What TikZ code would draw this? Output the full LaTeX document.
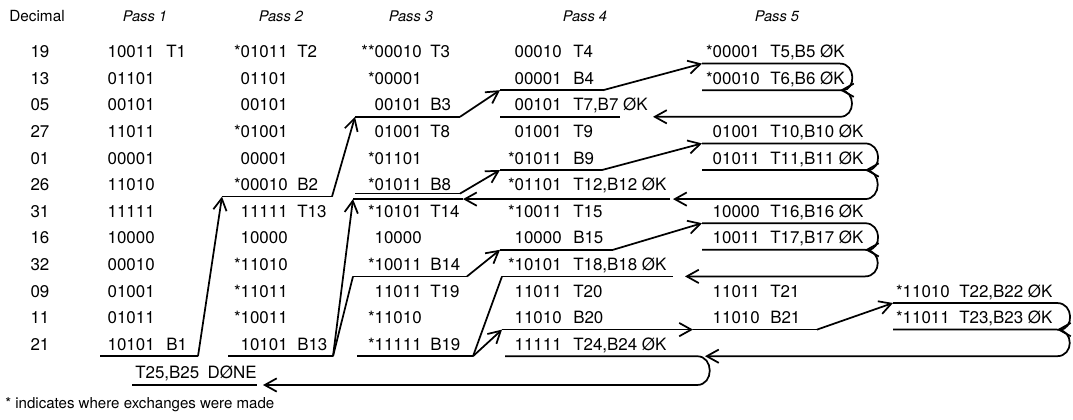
\documentclass[tikz,border=0pt]{standalone}
\usepackage{fontspec}
\setmainfont{TeX Gyre Heros}
\usetikzlibrary{arrows.meta}

\tikzset{
	cell/.style={inner sep=0pt, font=\fontsize{12.7}{15}\selectfont},
	num/.style={cell, anchor=base east},
	tag/.style={cell, anchor=base west},
	title/.style={inner sep=0pt, anchor=base, font=\fontsize{11}{13}\selectfont\itshape},
	rule/.style={line width=1.3pt},
	flow/.style={rule, -{Straight Barb[length=9pt,width=10pt]}}
}

\begin{document}
\begin{tikzpicture}[x=0.75pt, y=-0.75pt]
\useasboundingbox (0,0) rectangle (1073,419);

% Cabeceras
\node[title, font=\fontsize{11.5}{13}\selectfont] (hdec) at (37,21) {Decimal};
\foreach \x [count=\p] in {145,281,411,585,777}
	\node[title] (h\p) at (\x,21) {Pass \p};

% Decimal
\foreach \d [count=\r] in {19,13,05,27,01,26,31,16,32,09,11,21}
	\node[cell, anchor=base] (d\r) at (40,{31+26.6*\r}) {\d};

% Pass 1
\foreach \n [count=\r] in {10011,01101,00101,11011,00001,11010,11111,10000,00010,01001,01011,10101}
	\node[num] (a\r) at (155,{31+26.6*\r}) {\n};
\foreach \r/\l in {1/T1,12/B1}
	\node[tag] (at\r) at (166,{31+26.6*\r}) {\l};

% Pass 2
\foreach \n [count=\r] in {*01011,01101,00101,*01001,00001,*00010,11111,10000,*11010,*11011,*10011,10101}
	\node[num] (b\r) at (288,{31+26.6*\r}) {\n};
\foreach \r/\l in {1/T2,6/B2,7/T13,12/B13}
	\node[tag] (bt\r) at (297,{31+26.6*\r}) {\l};

% Pass 3
\foreach \n [count=\r] in {**00010,*00001,00101,01001,*01101,*01011,*10101,10000,*10011,11011,*11010,*11111}
	\node[num] (c\r) at (422,{31+26.6*\r}) {\n};
\foreach \r/\l in {1/T3,3/B3,4/T8,6/B8,7/T14,9/B14,10/T19,12/B19}
	\node[tag] (ct\r) at (430,{31+26.6*\r}) {\l};

% Pass 4
\foreach \n [count=\r] in {00010,00001,00101,01001,*01011,*01101,*10011,10000,*10101,11011,11010,11111}
	\node[num] (p\r) at (562,{31+26.6*\r}) {\n};
\foreach \r/\l in {1/T4,2/B4,3/{T7,B7 ØK},4/T9,5/B9,6/{T12,B12 ØK},7/T15,8/B15,9/{T18,B18 ØK},10/T20,11/B20,12/{T24,B24 ØK}}
	\node[tag] (pt\r) at (573,{31+26.6*\r}) {\l};

% Pass 5
\foreach \r/\n/\l in {1/*00001/{T5,B5 ØK},2/*00010/{T6,B6 ØK},4/01001/{T10,B10 ØK},5/01011/{T11,B11 ØK},7/10000/{T16,B16 ØK},8/10011/{T17,B17 ØK},10/11011/T21,11/11010/B21}{
	\node[num] (e\r) at (760,{31+26.6*\r}) {\n};
	\node[tag] (et\r) at (770,{31+26.6*\r}) {\l};
}

% Pass 6
\foreach \r/\n/\l in {10/*11010/{T22,B22 ØK},11/*11011/{T23,B23 ØK}}{
	\node[num] (f\r) at (950,{31+26.6*\r}) {\n};
	\node[tag] (ft\r) at (959,{31+26.6*\r}) {\l};
}

\node[cell, anchor=base west] (done) at (135,378) {T25,B25\enspace DØNE};
\node[inner sep=0pt, anchor=base west, font=\fontsize{11.3}{13}\selectfont] (note) at (5,408) {* indicates where exchanges were made};

% Lineas, pasos 1 a 3
\draw[rule] (100,356.2) -- (198,356.2) coordinate (B1);
\draw[rule] (222,196.6) coordinate (B2l) -- (332,196.6) coordinate (B2);
\draw[flow] (B1) -- (B2l);
\draw[rule] (228,356.2) -- (333,356.2) coordinate (B13);
\draw[rule] (355,116.8) coordinate (B3l) -- (460,116.8) coordinate (B3);
\draw[flow] (B2) -- (B3l);
\draw[rule] (355,193.6) -- (460,193.6) coordinate (B8);
\draw[rule] (353,199.1) coordinate (T14l) -- (463,199.1) coordinate (T14r);
\draw[rule] (353,276.4) coordinate (B14l) -- (467,276.4) coordinate (B14);
\draw[rule] (357,356.2) -- (473,356.2) coordinate (B19);
\draw[flow] (B13) -- (T14l);
\draw[rule] (B13) -- (B14l);

% Lineas, paso 4
\draw[rule] (500,90.2) coordinate (B4l) -- (603,90.2) coordinate (B4);
\draw[flow] (B3) -- (B4l);
\draw[rule] (500,116.8) -- (620,116.8);
\draw[rule] (500,170) coordinate (B9l) -- (602,170) coordinate (B9);
\draw[flow] (B8) -- (B9l);
\draw[flow] (670,199.1) coordinate (T12r) -- (T14r);
\draw[rule] (500,249.8) coordinate (B15l) -- (613,249.8) coordinate (B15);
\draw[flow] (B14) -- (B15l);
\draw[rule] (502,276.4) coordinate (T18l) -- (673,276.4);
\draw[rule] (B19) -- (T18l);
\draw[flow] (502,329.6) coordinate (B20l) -- (693,329.6) coordinate (B21l);
\draw[flow] (B19) -- (B20l);
\draw[flow] (505,356.2) -- (697,356.2) .. controls (714,356.2) and (714,385) .. (697,385) -- (263,385);
\draw[rule] (132,385) -- (257,385);

% Lineas, pasos 5 y 6
\draw[flow] (702,63.6) coordinate (T5l) -- (840,63.6) .. controls (856,63.6) and (856,90.2) .. (840,90.2);
\draw[flow] (702,90.2) -- (840,90.2) .. controls (856,90.2) and (856,116.8) .. (840,116.8) -- (653,116.8);
\draw[flow] (B4) -- (T5l);
\draw[flow] (702,143.4) coordinate (T10l) -- (865,143.4) .. controls (882,143.4) and (882,170) .. (865,170);
\draw[flow] (702,170) -- (865,170) .. controls (882,170) and (882,199.1) .. (865,199.1) -- (673,199.1);
\draw[flow] (B9) -- (T10l);
\draw[flow] (702,223.2) coordinate (T16l) -- (865,223.2) .. controls (882,223.2) and (882,249.8) .. (865,249.8);
\draw[flow] (702,249.8) -- (865,249.8) .. controls (882,249.8) and (882,276.4) .. (865,276.4) -- (685,276.4);
\draw[flow] (B15) -- (T16l);
\draw[rule] (B21l) -- (817,329.6) coordinate (B21);
\draw[flow] (893,303) coordinate (T22l) -- (1057,303) .. controls (1074,303) and (1074,329.6) .. (1057,329.6);
\draw[flow] (893,329.6) -- (1057,329.6) .. controls (1074,329.6) and (1074,356.2) .. (1057,356.2) -- (705,356.2);
\draw[flow] (B21) -- (T22l);
\end{tikzpicture}
\end{document}
